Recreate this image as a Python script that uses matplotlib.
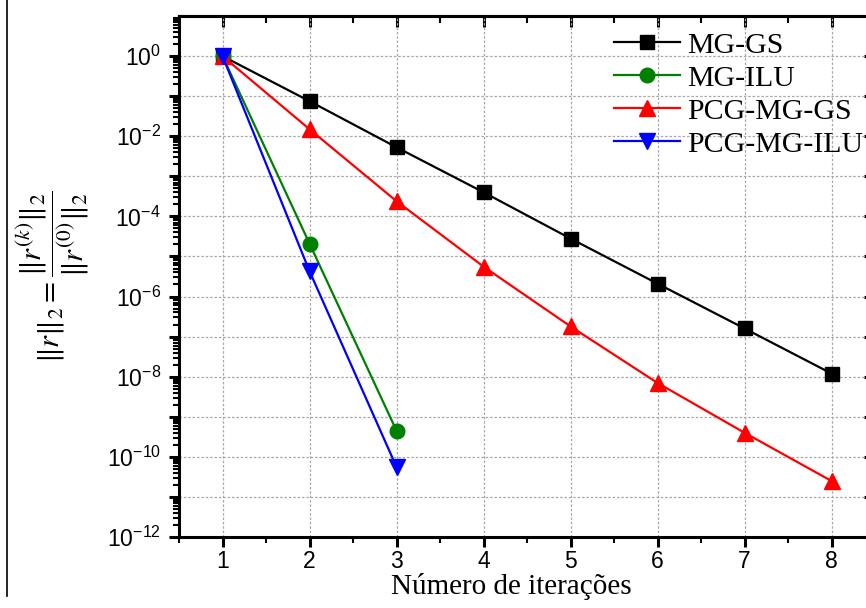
import math
import matplotlib
matplotlib.use("Agg")
import matplotlib.pyplot as plt
from matplotlib.ticker import LogLocator, MultipleLocator, FuncFormatter, NullFormatter, FixedLocator
from matplotlib.lines import Line2D

# data
iterations = [1, 2, 3, 4, 5, 6, 7, 8]
iterations_ilu = [1, 2, 3]
mg_gs = [1.0, 7.5e-2, 5.3e-3, 4.0e-4, 2.8e-5, 2.1e-6, 1.6e-7, 1.2e-8]
mg_ilu = [1.0, 2.1e-5, 4.5e-10]
pcg_mg_gs = [1.0, 1.5e-2, 2.4e-4, 5.6e-6, 1.8e-7, 7.0e-9, 4.0e-10, 2.5e-11]
pcg_mg_ilu = [1.0, 4.3e-6, 5.6e-11]
labels = ["MG-GS", "MG-ILU", "PCG-MG-GS", "PCG-MG-ILU"]
colors = ["black", "#008000", "red", "blue"]

SANS = "Liberation Sans"
SERIF = "Liberation Serif"

fig = plt.figure(figsize=(8.66, 6.08), dpi=100)
# axes runs past the right edge like in the cropped original
ax = fig.add_axes([179 / 866, 1 - 537 / 608, 696 / 866, 521 / 608])

ax.plot(iterations, mg_gs, color=colors[0], lw=1.6, marker="s", ms=10, label=labels[0])
ax.plot(iterations_ilu, mg_ilu, color=colors[1], lw=1.6, marker="o", ms=10.5, label=labels[1])
ax.plot(iterations, pcg_mg_gs, color=colors[2], lw=1.6, marker="^", ms=11.5, label=labels[2])
ax.plot(iterations_ilu, pcg_mg_ilu, color=colors[3], lw=1.6, marker="v", ms=11.5, label=labels[3])

ax.set_yscale("log")
ax.set_xlim(0.5, 8.5)
ax.set_ylim(1e-12, 1e1)

ax.xaxis.set_major_locator(MultipleLocator(1))
ax.xaxis.set_minor_locator(MultipleLocator(0.5))
ax.yaxis.set_major_locator(FixedLocator([10.0 ** e for e in range(-12, 1)]))
ax.yaxis.set_minor_locator(LogLocator(base=10, subs=range(2, 10), numticks=30))
ax.yaxis.set_minor_formatter(NullFormatter())


def fmt_y(v, pos):
    e = int(round(math.log10(v)))
    if e % 2:
        return ""
    return r"$\mathdefault{10^{%d}}$" % e


ax.yaxis.set_major_formatter(FuncFormatter(fmt_y))

ax.grid(True, which="major", color="#a8a8a8", linestyle=(0, (2, 1.5)), lw=0.9)
ax.set_axisbelow(True)

for s in ax.spines.values():
    s.set_linewidth(2.2)

ax.tick_params(axis="both", which="major", direction="out", length=7, width=2.2,
               labelsize=16.5, pad=6)
ax.tick_params(axis="x", which="major", pad=2)
ax.tick_params(axis="both", which="minor", direction="out", length=4, width=1.5)
for t in ax.get_xticklabels() + ax.get_yticklabels():
    t.set_fontfamily(SANS)

# mirrored ticks pointing inward on top and right
top = ax.secondary_xaxis("top")
top.xaxis.set_major_locator(MultipleLocator(1))
top.xaxis.set_minor_locator(MultipleLocator(0.5))
top.tick_params(which="major", direction="in", length=8, width=2.2, labeltop=False)
top.tick_params(which="minor", direction="in", length=5, width=1.5)
top.spines["top"].set_linewidth(2.2)

right = ax.secondary_yaxis("right")
right.yaxis.set_major_locator(FixedLocator([10.0 ** e for e in range(-12, 1)]))
right.yaxis.set_minor_locator(LogLocator(base=10, subs=range(2, 10), numticks=30))
right.tick_params(which="major", direction="in", length=8, width=2.2, labelright=False)
right.tick_params(which="minor", direction="in", length=4, width=1.5)

ax.set_xlabel("Número de iterações", fontsize=21, family=SERIF)
ax.xaxis.set_label_coords(0.478, -0.07)
ax.set_ylabel(r"$\Vert r\Vert_2=\dfrac{\Vert r^{(k)}\Vert_2}{\Vert r^{(0)}\Vert_2}$",
              fontsize=22, math_fontfamily="stix")
ax.yaxis.set_label_coords(-0.127, 0.5)

ax.legend(loc="upper left", bbox_to_anchor=(614 / 866, 1 - 32 / 608),
          bbox_transform=fig.transFigure, frameon=False,
          prop={"family": SERIF, "size": 21.5}, handlelength=2.2,
          handletextpad=0.25, labelspacing=0.2, borderaxespad=0, borderpad=0)

# page border line at the far left
fig.add_artist(Line2D([7 / 866, 7 / 866], [0.02, 1.0], color="black", lw=1.2))

fig.savefig("out.png", dpi=100)
